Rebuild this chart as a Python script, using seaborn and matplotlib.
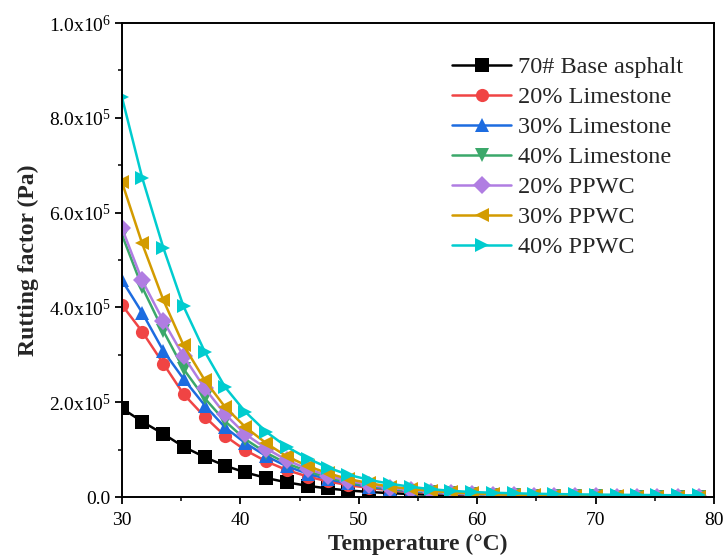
import math
import matplotlib
matplotlib.use("Agg")
import matplotlib.pyplot as plt
import seaborn as sns
import pandas as pd
from matplotlib.ticker import MultipleLocator, FuncFormatter

temperature = [30.0, 31.7, 33.5, 35.2, 37.0, 38.7, 40.4, 42.2, 43.9, 45.7, 47.4, 49.1,
               50.9, 52.6, 54.4, 56.1, 57.8, 59.6, 61.3, 63.1, 64.8, 66.5, 68.3, 70.0,
               71.8, 73.5, 75.2, 77.0, 78.7]

base_asphalt = [187000, 159000, 133000, 106000, 84000, 66000, 52000, 40000, 31000, 23500,
                18000, 13800, 10600, 8100, 6200, 4800, 3700, 2850, 2200, 1700, 1300, 1000,
                780, 600, 470, 360, 280, 220, 170]
limestone_20 = [405000, 349000, 281000, 217000, 169000, 129000, 99000, 75000, 57000, 43000,
                33000, 25000, 19000, 14500, 11000, 8400, 6400, 4900, 3700, 2850, 2200, 1700,
                1300, 1000, 780, 600, 470, 360, 280]
limestone_30 = [457000, 389000, 308000, 249000, 193000, 147000, 114000, 86000, 65000, 49000,
                37500, 28500, 21500, 16300, 12400, 9400, 7200, 5500, 4200, 3200, 2450, 1900,
                1450, 1100, 850, 660, 510, 400, 310]
limestone_40 = [553000, 443000, 350000, 270000, 208000, 160000, 122000, 93000, 71000, 54000,
                41000, 31000, 23500, 17800, 13500, 10300, 7800, 6000, 4600, 3500, 2700, 2050,
                1600, 1200, 930, 720, 560, 430, 330]
ppwc_20 = [567000, 457000, 371000, 297000, 229000, 175000, 133000, 102000, 78000, 59000,
           45000, 34000, 26000, 19700, 15000, 11400, 8700, 6600, 5000, 3800, 2900, 2250,
           1720, 1320, 1020, 790, 610, 470, 360]
ppwc_30 = [664000, 535000, 415000, 320000, 246000, 190000, 148000, 113000, 86000, 65000,
           50000, 38000, 29000, 22000, 16800, 12800, 9800, 7500, 5700, 4400, 3400, 2600,
           2000, 1550, 1200, 920, 710, 550, 430]
ppwc_40 = [843000, 674000, 525000, 402000, 306000, 232000, 180000, 137000, 106000, 81000,
           62000, 47000, 36000, 28000, 21500, 16500, 13000, 10500, 9000, 7800, 6900, 6200,
           5600, 5100, 4700, 4300, 4000, 3700, 3400]

series_names = ["70# Base asphalt", "20% Limestone", "30% Limestone", "40% Limestone",
                "20% PPWC", "30% PPWC", "40% PPWC"]
series_values = [base_asphalt, limestone_20, limestone_30, limestone_40, ppwc_20, ppwc_30, ppwc_40]
colors = ["#000000", "#F04444", "#1D6CE0", "#3BA86A", "#B07DE2", "#D39B00", "#00CCCF"]
markers = ["s", "o", "^", "v", "D", "<", ">"]

rows = []
for name, vals in zip(series_names, series_values):
    for t, v in zip(temperature, vals):
        rows.append({"Temperature": t, "Rutting": v, "Sample": name})
df = pd.DataFrame(rows)

sns.set_theme(style="ticks")
plt.rcParams["font.family"] = ["Liberation Serif", "DejaVu Serif"]
plt.rcParams["mathtext.fontset"] = "custom"
plt.rcParams["mathtext.rm"] = "Liberation Serif"
plt.rcParams["mathtext.it"] = "Liberation Serif:italic"
plt.rcParams["mathtext.bf"] = "Liberation Serif:bold"

fig = plt.figure(figsize=(7.24, 5.59), dpi=100)
ax = fig.add_axes([122 / 724, 1 - 497 / 559, 592 / 724, 474 / 559])

sns.lineplot(data=df, x="Temperature", y="Rutting", hue="Sample", style="Sample",
             hue_order=series_names, style_order=series_names,
             palette=colors, markers=markers, dashes=False, ax=ax,
             linewidth=1.8, markersize=9.5, markeredgewidth=0)

ax.set_xlim(30, 80)
ax.set_ylim(0, 1e6)
ax.xaxis.set_major_locator(MultipleLocator(10))
ax.xaxis.set_minor_locator(MultipleLocator(5))
ax.yaxis.set_major_locator(MultipleLocator(2e5))
ax.yaxis.set_minor_locator(MultipleLocator(1e5))


def yfmt(v, pos):
    if v == 0:
        return "0.0"
    e = int(math.floor(math.log10(abs(v)) + 1e-9))
    m = v / 10 ** e
    return f"{m:.1f}x10$^{{{e}}}$"


ax.yaxis.set_major_formatter(FuncFormatter(yfmt))
ax.tick_params(axis="both", which="major", direction="out", length=5, width=1.3,
               labelsize=14, colors="black")
ax.tick_params(axis="x", which="major", pad=6)
ax.tick_params(axis="y", which="major", pad=3)
ax.tick_params(axis="both", which="minor", direction="out", length=3, width=1.3)
for s in ax.spines.values():
    s.set_linewidth(1.4)
    s.set_color("black")

ax.set_xlabel("Temperature (°C)", fontsize=17, fontweight="bold", labelpad=3)
ax.set_ylabel("Rutting factor (Pa)", fontsize=17, fontweight="bold", labelpad=7)

handles, labels = ax.get_legend_handles_labels()
ax.legend(handles=handles, labels=labels, loc="upper left", bbox_to_anchor=(0.558, 0.93),
          frameon=False, fontsize=17.5, handlelength=2.4, handletextpad=0.3,
          labelspacing=0.33, borderpad=0, borderaxespad=0)

fig.savefig("out.png", dpi=100)
